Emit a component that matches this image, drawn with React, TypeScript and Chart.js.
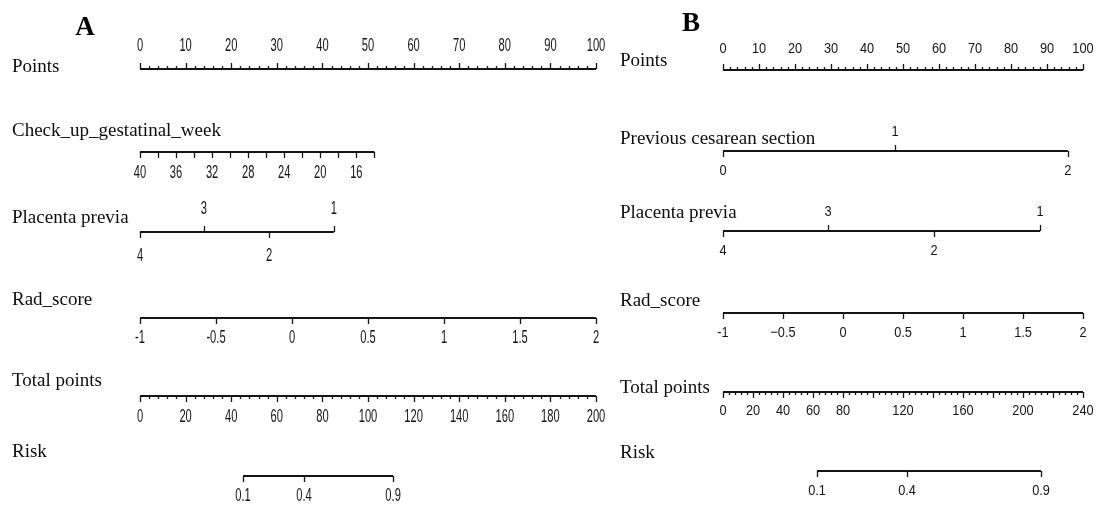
import React, { useEffect, useRef } from "react";
import { Chart, registerables } from "chart.js";

Chart.register(...registerables);

// ---------------- Panel A data ----------------
const A_POINTS_LABELS = [0, 10, 20, 30, 40, 50, 60, 70, 80, 90, 100];
const A_CHECKUP_TICKS = [40, 38, 36, 34, 32, 30, 28, 26, 24, 22, 20, 18, 16, 14];
const A_CHECKUP_LABELS = [40, 36, 32, 28, 24, 20, 16];
const A_CHECKUP_POINTS = [0, 51.4]; // points for 40 weeks and for 14 weeks
const A_PLACENTA_CATS = ["4", "3", "2", "1"];
const A_PLACENTA_POINTS = [0, 14.0, 28.3, 42.5];
const A_RAD_LABELS = [-1, -0.5, 0, 0.5, 1, 1.5, 2];
const A_RAD_TEXT = ["-1", "-0.5", "0", "0.5", "1", "1.5", "2"];
const A_TOTAL_LABELS = [0, 20, 40, 60, 80, 100, 120, 140, 160, 180, 200];
const A_RISK_LABELS = ["0.1", "0.4", "0.9"];
const A_RISK_TOTALS = [45.2, 71.9, 111.0];

// ---------------- Panel B data ----------------
const B_POINTS_LABELS = [0, 10, 20, 30, 40, 50, 60, 70, 80, 90, 100];
const B_CESAREAN_CATS = ["0", "1", "2"];
const B_CESAREAN_POINTS = [0, 47.8, 95.8];
const B_PLACENTA_CATS = ["4", "3", "2", "1"];
const B_PLACENTA_POINTS = [0, 29.2, 58.6, 88.1];
const B_RAD_LABELS = [-1, -0.5, 0, 0.5, 1, 1.5, 2];
const B_RAD_TEXT = ["-1", "\u22120.5", "0", "0.5", "1", "1.5", "2"];
const B_TOTAL_MAJOR = [0, 20, 40, 60, 80, 100, 120, 140, 160, 180, 200, 220, 240];
const B_TOTAL_LABELS = [0, 20, 40, 60, 80, 120, 160, 200, 240];
const B_RISK_LABELS = ["0.1", "0.4", "0.9"];
const B_RISK_TOTALS = [62.7, 122.7, 212.0];

// ---------------- styling / layout ----------------
const H = 509;
const INK = "#151515";
const SERIF = "'Liberation Serif', 'Times New Roman', serif";
const NARROW = "'Liberation Sans Narrow', 'Arial Narrow', 'Liberation Sans', sans-serif";
const SANS = "'Liberation Sans', Arial, sans-serif";

type Mark = { v: number; len: number; dir: 1 | -1 };
type Lab = { v: number; text: string; dir: 1 | -1 };
type Row = {
  name: string;
  nameY: number;
  scale: string;
  lineY: number;
  from: number;
  to: number;
  marks: Mark[];
  labels: Lab[];
  upOff: number;
  downOff: number;
};
type Panel = {
  letter: string;
  letterX: number;
  letterY: number;
  nameX: number;
  left: number;
  width: number;
  padLeft: number;
  padRight: number;
  scales: Record<string, { min: number; max: number; reverse?: boolean }>;
  rows: Row[];
  tickFont: string;
  tickDigitW: number;
};

function range(a: number, b: number, s: number): number[] {
  const out: number[] = [];
  const n = Math.round((b - a) / s);
  for (let i = 0; i <= n; i++) out.push(Math.round((a + i * s) * 1000) / 1000);
  return out;
}

function pointsAxisMarks(labels: number[], minorStep: number, dir: 1 | -1): Mark[] {
  const minor = range(labels[0], labels[labels.length - 1], minorStep)
    .filter((v) => !labels.includes(v))
    .map((v) => ({ v, len: 3, dir }));
  return [...minor, ...labels.map((v) => ({ v, len: 6, dir }))];
}

function catRow(name: string, nameY: number, lineY: number, cats: string[], pts: number[], dirs: (1 | -1)[], upOff: number, downOff: number): Row {
  return {
    name,
    nameY,
    scale: "pts",
    lineY,
    from: Math.min(...pts),
    to: Math.max(...pts),
    marks: pts.map((v, i) => ({ v, len: 6, dir: dirs[i] })),
    labels: pts.map((v, i) => ({ v, text: cats[i], dir: dirs[i] })),
    upOff,
    downOff,
  };
}

// checkup scale spanning the 0..100 points range
const chkAt0 = A_CHECKUP_TICKS[0];
const chkEnd = A_CHECKUP_TICKS[A_CHECKUP_TICKS.length - 1];
const chkAt100 = chkAt0 + ((chkEnd - chkAt0) * (100 - A_CHECKUP_POINTS[0])) / (A_CHECKUP_POINTS[1] - A_CHECKUP_POINTS[0]);

const PANEL_A: Panel = {
  letter: "A",
  letterX: 85,
  letterY: 28,
  nameX: 12,
  left: 0,
  width: 610,
  padLeft: 140,
  padRight: 14,
  tickFont: `19px ${NARROW}`,
  tickDigitW: 6.2,
  scales: {
    pts: { min: 0, max: 100 },
    chk: { min: chkAt100, max: chkAt0, reverse: true },
    rad: { min: A_RAD_LABELS[0], max: A_RAD_LABELS[A_RAD_LABELS.length - 1] },
    tot: { min: A_TOTAL_LABELS[0], max: A_TOTAL_LABELS[A_TOTAL_LABELS.length - 1] },
  },
  rows: [
    {
      name: "Points", nameY: 67, scale: "pts", lineY: 69, from: 0, to: 100,
      marks: pointsAxisMarks(A_POINTS_LABELS, 2, -1),
      labels: A_POINTS_LABELS.map((v) => ({ v, text: String(v), dir: -1 as const })),
      upOff: 23, downOff: 0,
    },
    {
      name: "Check_up_gestatinal_week", nameY: 131, scale: "chk", lineY: 152, from: chkAt0, to: chkEnd,
      marks: A_CHECKUP_TICKS.map((v) => ({ v, len: 6, dir: 1 as const })),
      labels: A_CHECKUP_LABELS.map((v) => ({ v, text: String(v), dir: 1 as const })),
      upOff: 0, downOff: 21,
    },
    catRow("Placenta previa", 218, 232, A_PLACENTA_CATS, A_PLACENTA_POINTS, [1, -1, 1, -1], 23, 24),
    {
      name: "Rad_score", nameY: 300, scale: "rad", lineY: 318, from: -1, to: 2,
      marks: A_RAD_LABELS.map((v) => ({ v, len: 6, dir: 1 as const })),
      labels: A_RAD_LABELS.map((v, i) => ({ v, text: A_RAD_TEXT[i], dir: 1 as const })),
      upOff: 0, downOff: 20,
    },
    {
      name: "Total points", nameY: 381, scale: "tot", lineY: 396, from: 0, to: 200,
      marks: pointsAxisMarks(A_TOTAL_LABELS, 4, 1),
      labels: A_TOTAL_LABELS.map((v) => ({ v, text: String(v), dir: 1 as const })),
      upOff: 0, downOff: 21,
    },
    {
      name: "Risk", nameY: 452, scale: "tot", lineY: 476, from: A_RISK_TOTALS[0], to: A_RISK_TOTALS[A_RISK_TOTALS.length - 1],
      marks: A_RISK_TOTALS.map((v) => ({ v, len: 6, dir: 1 as const })),
      labels: A_RISK_TOTALS.map((v, i) => ({ v, text: A_RISK_LABELS[i], dir: 1 as const })),
      upOff: 0, downOff: 20,
    },
  ],
};

const PANEL_B: Panel = {
  letter: "B",
  letterX: 691 - 610,
  letterY: 24,
  nameX: 620 - 610,
  left: 610,
  width: 487,
  padLeft: 723 - 610,
  padRight: 1097 - 1083,
  tickFont: `15px ${SANS}`,
  tickDigitW: 7.1,
  scales: {
    pts: { min: 0, max: 100 },
    rad: { min: B_RAD_LABELS[0], max: B_RAD_LABELS[B_RAD_LABELS.length - 1] },
    tot: { min: B_TOTAL_MAJOR[0], max: B_TOTAL_MAJOR[B_TOTAL_MAJOR.length - 1] },
  },
  rows: [
    {
      name: "Points", nameY: 61, scale: "pts", lineY: 70, from: 0, to: 100,
      marks: pointsAxisMarks(B_POINTS_LABELS, 2, -1),
      labels: B_POINTS_LABELS.map((v) => ({ v, text: String(v), dir: -1 as const })),
      upOff: 21, downOff: 0,
    },
    catRow("Previous cesarean section", 139, 151, B_CESAREAN_CATS, B_CESAREAN_POINTS, [1, -1, 1], 19, 20),
    catRow("Placenta previa", 213, 231, B_PLACENTA_CATS, B_PLACENTA_POINTS, [1, -1, 1, -1], 19, 20),
    {
      name: "Rad_score", nameY: 301, scale: "rad", lineY: 313, from: -1, to: 2,
      marks: B_RAD_LABELS.map((v) => ({ v, len: 6, dir: 1 as const })),
      labels: B_RAD_LABELS.map((v, i) => ({ v, text: B_RAD_TEXT[i], dir: 1 as const })),
      upOff: 0, downOff: 20,
    },
    {
      name: "Total points", nameY: 388, scale: "tot", lineY: 392, from: 0, to: 240,
      marks: pointsAxisMarks(B_TOTAL_MAJOR, 4, 1),
      labels: B_TOTAL_LABELS.map((v) => ({ v, text: String(v), dir: 1 as const })),
      upOff: 0, downOff: 19,
    },
    {
      name: "Risk", nameY: 453, scale: "tot", lineY: 471, from: B_RISK_TOTALS[0], to: B_RISK_TOTALS[B_RISK_TOTALS.length - 1],
      marks: B_RISK_TOTALS.map((v) => ({ v, len: 6, dir: 1 as const })),
      labels: B_RISK_TOTALS.map((v, i) => ({ v, text: B_RISK_LABELS[i], dir: 1 as const })),
      upOff: 0, downOff: 20,
    },
  ],
};

function makePlugin(panel: Panel) {
  return {
    id: "nomogram" + panel.letter,
    afterDatasetsDraw(chart: any) {
      const ctx: CanvasRenderingContext2D = chart.ctx;
      ctx.save();
      ctx.font = panel.tickFont;
      const digitW = ctx.measureText("0").width;
      const sx = panel.tickDigitW / digitW;

      for (const row of panel.rows) {
        const sc = chart.scales[row.scale];
        ctx.strokeStyle = INK;
        ctx.lineWidth = 1.3;
        ctx.beginPath();
        for (const m of row.marks) {
          const x = Math.round(sc.getPixelForValue(m.v)) + 0.5;
          ctx.moveTo(x, row.lineY);
          ctx.lineTo(x, row.lineY + m.dir * m.len);
        }
        ctx.stroke();
        ctx.fillStyle = INK;
        ctx.textAlign = "center";
        ctx.textBaseline = "middle";
        for (const l of row.labels) {
          const x = sc.getPixelForValue(l.v);
          const y = row.lineY + (l.dir < 0 ? -row.upOff : row.downOff);
          ctx.save();
          ctx.translate(x, y);
          ctx.scale(sx, 1);
          ctx.font = panel.tickFont;
          ctx.fillText(l.text, 0, 0);
          ctx.restore();
        }
        ctx.font = `19px ${SERIF}`;
        ctx.textAlign = "left";
        ctx.textBaseline = "middle";
        ctx.fillStyle = "#0d0d0d";
        ctx.fillText(row.name, panel.nameX, row.nameY);
      }
      ctx.font = `bold 27px ${SERIF}`;
      ctx.textAlign = "center";
      ctx.textBaseline = "middle";
      ctx.fillStyle = "#000";
      ctx.fillText(panel.letter, panel.letterX, panel.letterY);
      ctx.restore();
    },
  };
}

function makeChart(canvas: HTMLCanvasElement, panel: Panel) {
  const scales: any = {
    y: { type: "linear", min: 0, max: H, reverse: true, display: false },
  };
  for (const [id, s] of Object.entries(panel.scales)) {
    scales[id] = { type: "linear", axis: "x", position: "bottom", min: s.min, max: s.max, reverse: !!s.reverse, display: false };
  }
  const datasets = panel.rows.map((r) => ({
    label: r.name,
    data: [
      { x: r.from, y: r.lineY },
      { x: r.to, y: r.lineY },
    ],
    xAxisID: r.scale,
    yAxisID: "y",
    showLine: true,
    borderColor: INK,
    borderWidth: 2,
    pointRadius: 0,
    fill: false,
    clip: false as any,
  }));
  return new Chart(canvas, {
    type: "scatter",
    data: { datasets },
    options: {
      animation: false,
      responsive: false,
      events: [],
      layout: { padding: { left: panel.padLeft, right: panel.padRight, top: 0, bottom: 0 } },
      scales,
      plugins: { legend: { display: false }, tooltip: { enabled: false } },
    },
    plugins: [makePlugin(panel)],
  } as any);
}

export default function App() {
  const refA = useRef<HTMLCanvasElement>(null);
  const refB = useRef<HTMLCanvasElement>(null);
  useEffect(() => {
    document.body.style.margin = "0";
    const ca = makeChart(refA.current!, PANEL_A);
    const cb = makeChart(refB.current!, PANEL_B);
    return () => {
      ca.destroy();
      cb.destroy();
    };
  }, []);
  return (
    <div style={{ position: "relative", width: 1097, height: H, background: "#fff" }}>
      <canvas ref={refA} width={PANEL_A.width} height={H} style={{ position: "absolute", left: PANEL_A.left, top: 0 }} />
      <canvas ref={refB} width={PANEL_B.width} height={H} style={{ position: "absolute", left: PANEL_B.left, top: 0 }} />
    </div>
  );
}
